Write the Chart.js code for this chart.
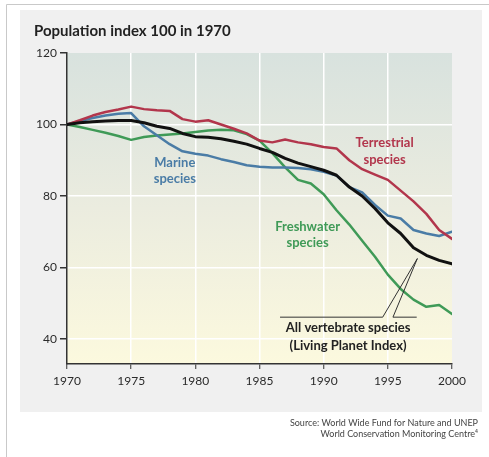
<!DOCTYPE html>
<html>
<head>
<meta charset="utf-8">
<script src="https://cdn.jsdelivr.net/npm/chart.js@4.4.1/dist/chart.umd.min.js"></script>
<style>
  html, body { margin: 0; padding: 0; background: #fff; }
  #wrap { position: relative; width: 489px; height: 457px; }
</style>
</head>
<body>
<div id="wrap"><canvas id="chart" width="489" height="457"></canvas></div>
<script>
// ===== Data =====
const YEARS = [1970, 1971, 1972, 1973, 1974, 1975, 1976, 1977, 1978, 1979, 1980,
  1981, 1982, 1983, 1984, 1985, 1986, 1987, 1988, 1989, 1990,
  1991, 1992, 1993, 1994, 1995, 1996, 1997, 1998, 1999, 2000];

const TERRESTRIAL = [100, 101.2, 102.5, 103.5, 104.2, 105, 104.3, 104, 103.8, 101.5, 100.8,
  101.2, 100, 98.8, 97.5, 95.5, 95, 95.8, 95, 94.5, 93.7,
  93.3, 90, 87.5, 86, 84.5, 81.5, 78.5, 75, 70.5, 68];

const MARINE = [100, 101, 101.8, 102.5, 103, 103.2, 99.5, 97, 94.5, 92.5, 91.8,
  91.3, 90.3, 89.5, 88.6, 88.2, 88, 88, 87.8, 87.5, 86.8,
  85.7, 82.5, 81, 77.5, 74.5, 73.7, 70.5, 69.5, 68.8, 70];

const FRESHWATER = [100, 99.3, 98.5, 97.7, 96.8, 95.7, 96.5, 96.9, 97.2, 97.5, 97.9,
  98.3, 98.5, 98.4, 97.3, 95.5, 92, 88, 84.5, 83.5, 80.5,
  76, 72, 67.5, 63, 58, 54, 51, 49, 49.5, 47];

const ALL_SPECIES = [100, 100.5, 100.8, 101, 101.1, 101.1, 100.5, 99.5, 98.9, 97.5, 96.6,
  96.4, 96, 95.3, 94.5, 93.3, 92.2, 90.5, 89.2, 88.2, 87.2,
  85.8, 82.5, 80, 76.5, 72.5, 69.5, 65.5, 63.4, 62, 61];

const X_TICKS = [1970, 1975, 1980, 1985, 1990, 1995, 2000];
const Y_TICKS = [40, 60, 80, 100, 120];

const FONT = 'Lato, "Open Sans", sans-serif';
const TEXT = '#2b2b2b';

// labels in data units: [text, year, value, colour]
const LABELS = [
  ['Terrestrial', 1994.75, 94.9, '#b2364c'],
  ['species', 1994.75, 90.2, '#b2364c'],
  ['Marine', 1978.4, 89.3, '#4a7ca6'],
  ['species', 1978.4, 84.9, '#4a7ca6'],
  ['Freshwater', 1988.75, 71.5, '#3f9a57'],
  ['species', 1988.75, 67, '#3f9a57'],
  ['All vertebrate species', 1991.9, 43, '#222'],
  ['(Living Planet Index)', 1991.9, 38, '#222'],
];
const POINTER = [[1986.6, 46.1], [1994.6, 46.1], [1997.3, 62.5], [1995.4, 46.1], [1997.25, 46.1]];

const toXY = arr => YEARS.map((y, i) => ({ x: y, y: arr[i] }));

const backdrop = {
  id: 'backdrop',
  beforeDraw(chart) {
    const { ctx, chartArea: a } = chart;
    ctx.save();
    ctx.fillStyle = '#fff';
    ctx.fillRect(0, 0, chart.width, chart.height);
    ctx.strokeStyle = '#c9c9c9';
    ctx.lineWidth = 1;
    ctx.beginPath();
    ctx.moveTo(6.5, chart.height);
    ctx.lineTo(6.5, 4.5);
    ctx.lineTo(chart.width, 4.5);
    ctx.stroke();
    ctx.fillStyle = '#f0f0f0';
    ctx.fillRect(20, 10, 462, 402);
    const g = ctx.createLinearGradient(0, a.top, 0, a.bottom);
    g.addColorStop(0, '#d8e2de');
    g.addColorStop(0.5, '#ebecdf');
    g.addColorStop(1, '#fcf9de');
    ctx.fillStyle = g;
    ctx.fillRect(a.left, a.top, a.right - a.left, a.bottom - a.top);
    ctx.restore();
  },
  afterDraw(chart) {
    const { ctx } = chart;
    const xs = chart.scales.x, ys = chart.scales.y;
    ctx.save();
    ctx.textAlign = 'center';
    ctx.textBaseline = 'middle';
    ctx.font = `bold 13px ${FONT}`;
    LABELS.forEach(([t, x, y, c]) => {
      ctx.fillStyle = c;
      ctx.fillText(t, xs.getPixelForValue(x), ys.getPixelForValue(y));
    });
    ctx.strokeStyle = '#333';
    ctx.lineWidth = 1;
    ctx.beginPath();
    POINTER.forEach(([x, y], i) => {
      const px = xs.getPixelForValue(x), py = ys.getPixelForValue(y);
      i ? ctx.lineTo(px, py) : ctx.moveTo(px, py);
    });
    ctx.stroke();

    ctx.textAlign = 'left';
    ctx.fillStyle = '#222';
    ctx.font = `bold 15px ${FONT}`;
    ctx.fillText('Population index 100 in 1970', 34, 31);

    ctx.textAlign = 'right';
    ctx.fillStyle = '#444';
    ctx.font = `9px ${FONT}`;
    ctx.fillText('Source: World Wide Fund for Nature and UNEP', 478, 423);
    ctx.fillText('World Conservation Monitoring Centre\u2074', 478, 434);
    ctx.restore();
  }
};

const edgeless = (edges) => c => (c.tick && edges.includes(c.tick.value)) ? 'rgba(0,0,0,0)' : '#ffffff';

new Chart(document.getElementById('chart'), {
  type: 'line',
  data: {
    datasets: [
      { label: 'All vertebrate species', data: toXY(ALL_SPECIES), borderColor: '#111', borderWidth: 3, order: 0 },
      { label: 'Terrestrial species', data: toXY(TERRESTRIAL), borderColor: '#b2364c', borderWidth: 2.5, order: 1 },
      { label: 'Marine species', data: toXY(MARINE), borderColor: '#4a7ca6', borderWidth: 2.5, order: 2 },
      { label: 'Freshwater species', data: toXY(FRESHWATER), borderColor: '#3f9a57', borderWidth: 2.5, order: 3 },
    ],
  },
  options: {
    responsive: false,
    animation: false,
    elements: { point: { radius: 0 }, line: { tension: 0, borderJoinStyle: 'round', borderCapStyle: 'round' } },
    layout: { padding: { left: 0, top: 53, right: 37, bottom: 63 } },
    plugins: { legend: { display: false }, tooltip: { enabled: false } },
    scales: {
      x: {
        type: 'linear', min: 1970, max: 2000,
        afterBuildTicks: s => { s.ticks = X_TICKS.map(v => ({ value: v })); },
        afterFit: s => { s.height = 30; },
        grid: { color: edgeless([1970, 2000]), lineWidth: 1.5, tickColor: '#333', tickLength: 5, tickWidth: 1 },
        border: { color: '#333', width: 1.5 },
        ticks: { color: TEXT, font: { family: FONT, size: 12 }, padding: 5, maxRotation: 0, callback: v => String(v) },
      },
      y: {
        type: 'linear', min: 33, max: 120,
        afterBuildTicks: s => { s.ticks = Y_TICKS.map(v => ({ value: v })); },
        afterFit: s => { s.width = 67; },
        grid: { color: edgeless([120]), lineWidth: 1.5, tickColor: '#333', tickLength: 7, tickWidth: 1.5 },
        border: { color: '#333', width: 1.5 },
        ticks: { color: TEXT, font: { family: FONT, size: 12 }, padding: 3 },
      },
    },
  },
  plugins: [backdrop],
});
</script>
</body>
</html>
